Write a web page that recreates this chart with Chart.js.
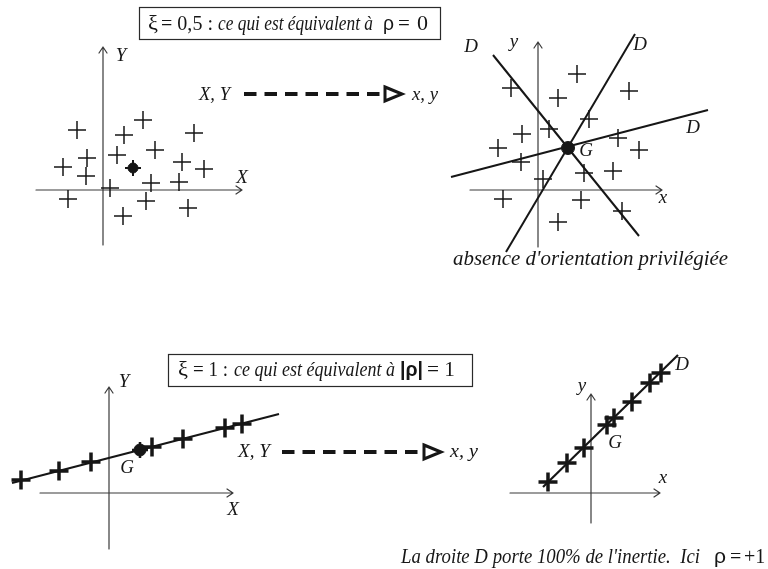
<!DOCTYPE html>
<html>
<head>
<meta charset="utf-8">
<script src="https://cdn.jsdelivr.net/npm/chart.js@4.4.1/dist/chart.umd.min.js"></script>
<style>
  html, body { margin: 0; padding: 0; background: #fff; }
  #wrap { position: relative; width: 768px; height: 569px; }
</style>
</head>
<body>
<div id="wrap"><canvas id="c"></canvas></div>
<script>
// Panel A: scattered cloud in the (X, Y) frame, G = centre of gravity
const cloudAX = [-26, 21, 40, 91, 52, 14, -16, -40, -17, 79, 101, 48, 76, 7, -35, 43, 85, 20];
const cloudAY = [60, 55, 70, 57, 40, 35, 32, 23, 14, 28, 21, 7, 8, 2, -9, -11, -18, -26];
const gA = [30, 22];

// Panel B: the cloud in the (x, y) frame, with three candidate axes D through G
const cloudBX = [-27, 39, 91, 20, 51, -16, 11, -40, 80, 101, -17, 46, 75, 5, -35, 43, 84, 20];
const cloudBY = [102, 116, 99, 92, 71, 56, 61, 42, 52, 40, 28, 17, 19, 11, -9, -10, -21, -32];
const gB = [30, 42];
const axesBX = [[-45, 101], [-32, 97], [-87, 170]];
const axesBY = [[135, -46], [-62, 156], [13, 80]];

// Panel C: perfectly aligned points in the (X, Y) frame
const lineCX = [-88, -50, -18, 43, 74, 116, 133];
const lineCY = [13, 22, 31, 46, 54, 65, 69];
const gC = [31, 43];
const axisCX = [-97, 170];
const axisCY = [10, 79];

// Panel D: the same points in the (x, y) frame, all on D
const lineDX = [-43, -24, -7, 16, 23, 41, 59, 70];
const lineDY = [11, 30, 45, 68, 75, 91, 110, 120];
const axisDX = [-48, 87];
const axisDY = [6, 138];

// ---- layout: pixel origin of each frame, and axis extents in frame units ----
const W = 768, H = 569;
const origin = { A: [103, 190], B: [538, 190], C: [109, 493], D: [591, 493] };
const extent = {
  A: { x: [-67, 139], y: [-55, 143] },
  B: { x: [-68, 124], y: [-57, 148] },
  C: { x: [-69, 124], y: [-56, 106] },
  D: { x: [-81, 69], y: [-30, 99] }
};

const INK = '#161616';
const zip = (xs, ys) => xs.map((x, i) => ({ x, y: ys[i] }));

const scales = {};
for (const k of Object.keys(origin)) {
  const [ox, oy] = origin[k];
  scales['x' + k] = { type: 'linear', display: false, min: -ox, max: W - ox };
  scales['y' + k] = { type: 'linear', display: false, min: -(H - oy), max: oy };
}

function crosses(k, data, r, bw, order) {
  return { data, xAxisID: 'x' + k, yAxisID: 'y' + k, pointStyle: 'cross', pointRadius: r,
    borderColor: INK, pointBorderWidth: bw, borderWidth: bw, showLine: false, order };
}
function dot(k, g, r, order) {
  return { data: [{ x: g[0], y: g[1] }], xAxisID: 'x' + k, yAxisID: 'y' + k, pointStyle: 'circle',
    pointRadius: r, backgroundColor: INK, borderColor: INK, borderWidth: 1, showLine: false, order };
}
function seg(k, xs, ys, bw, order) {
  return { data: zip(xs, ys), xAxisID: 'x' + k, yAxisID: 'y' + k, showLine: true, pointRadius: 0,
    borderColor: INK, borderWidth: bw, fill: false, order };
}

const datasets = [
  dot('A', gA, 5, 0), crosses('A', [{ x: gA[0], y: gA[1] }], 8, 2, 0),
  crosses('A', zip(cloudAX, cloudAY), 9, 1.5, 1),
  dot('B', gB, 6.5, 0),
  crosses('B', zip(cloudBX, cloudBY), 9, 1.5, 1),
  ...axesBX.map((xs, i) => seg('B', xs, axesBY[i], 2, 2)),
  dot('C', gC, 6, 0), crosses('C', [{ x: gC[0], y: gC[1] }], 8, 2.5, 0),
  crosses('C', zip(lineCX, lineCY), 9.5, 3.5, 1),
  seg('C', axisCX, axisCY, 2.2, 2),
  crosses('D', zip(lineDX, lineDY), 9.5, 3.5, 1),
  seg('D', axisDX, axisDY, 2.2, 2)
];

// ---- drawing helpers for frames, arrows and text ----
function fitText(ctx, s, font, x0, x1, base) {
  ctx.save();
  ctx.font = font; ctx.textAlign = 'left'; ctx.textBaseline = 'alphabetic'; ctx.fillStyle = INK;
  const w = ctx.measureText(s).width;
  const sx = x1 ? (x1 - x0) / w : 1;
  ctx.translate(x0, base); ctx.scale(sx, 1); ctx.fillText(s, 0, 0);
  ctx.restore();
}
function label(ctx, s, cx, cy, font) {
  ctx.save();
  ctx.font = font || 'italic 19px "Liberation Serif"';
  ctx.textAlign = 'center'; ctx.textBaseline = 'middle'; ctx.fillStyle = INK;
  ctx.fillText(s, cx, cy);
  ctx.restore();
}
function frame(chart, k) {
  const ctx = chart.ctx, sx = chart.scales['x' + k], sy = chart.scales['y' + k];
  const e = extent[k];
  const x0 = sx.getPixelForValue(0), y0 = sy.getPixelForValue(0);
  const xa = sx.getPixelForValue(e.x[0]), xb = sx.getPixelForValue(e.x[1]);
  const ya = sy.getPixelForValue(e.y[0]), yb = sy.getPixelForValue(e.y[1]);
  ctx.save();
  ctx.strokeStyle = '#3a3a3a'; ctx.lineWidth = 1.2; ctx.lineCap = 'round'; ctx.lineJoin = 'round';
  ctx.beginPath();
  ctx.moveTo(xa, y0); ctx.lineTo(xb, y0);
  ctx.moveTo(x0, ya); ctx.lineTo(x0, yb);
  ctx.moveTo(xb - 6, y0 - 4); ctx.lineTo(xb, y0); ctx.lineTo(xb - 6, y0 + 4);
  ctx.moveTo(x0 - 4, yb + 6); ctx.lineTo(x0, yb); ctx.lineTo(x0 + 4, yb + 6);
  ctx.stroke();
  ctx.restore();
}
function dashedArrow(ctx, x1, xt, tip, y, halfH) {
  ctx.save();
  ctx.strokeStyle = INK; ctx.lineWidth = 4; ctx.lineCap = 'butt';
  ctx.setLineDash([12.5, 8]);
  ctx.beginPath(); ctx.moveTo(x1, y); ctx.lineTo(xt, y); ctx.stroke();
  ctx.setLineDash([]);
  ctx.lineWidth = 3; ctx.lineJoin = 'miter';
  ctx.beginPath();
  ctx.moveTo(xt, y - halfH); ctx.lineTo(tip, y); ctx.lineTo(xt, y + halfH); ctx.closePath();
  ctx.fillStyle = '#fff'; ctx.fill(); ctx.stroke();
  ctx.restore();
}
function box(ctx, x, y, w, h) {
  ctx.save();
  ctx.strokeStyle = '#2a2a2a'; ctx.lineWidth = 1.2;
  ctx.strokeRect(x, y, w, h);
  ctx.restore();
}

const SERIF = '"Liberation Serif", "Times New Roman", serif';
const SANS = '"Liberation Sans", Arial, sans-serif';

const diagramPlugin = {
  id: 'diagram',
  beforeDatasetsDraw(chart) {
    for (const k of Object.keys(origin)) frame(chart, k);
  },
  afterDatasetsDraw(chart) {
    const ctx = chart.ctx;
    // first heading
    box(ctx, 139.5, 7.5, 301, 32);
    fitText(ctx, 'ξ', '21px ' + SERIF, 148, 158, 30);
    fitText(ctx, '= 0,5 :', '21px ' + SERIF, 161, 213, 30);
    fitText(ctx, 'ce qui est équivalent à', 'italic 21px ' + SERIF, 218, 373, 30);
    fitText(ctx, 'ρ', '21px ' + SANS, 383, 394, 30);
    fitText(ctx, '=', '21px ' + SERIF, 398, null, 30);
    fitText(ctx, '0', '22px ' + SERIF, 417, null, 30);
    // second heading
    box(ctx, 168.5, 354.5, 304, 32);
    fitText(ctx, 'ξ', '21px ' + SERIF, 178, 188, 376);
    fitText(ctx, '= 1 :', '21px ' + SERIF, 193, 228, 376);
    fitText(ctx, 'ce qui est équivalent à', 'italic 21px ' + SERIF, 234, 395, 376);
    fitText(ctx, '|ρ|', 'bold 20px ' + SANS, 400, 423, 376);
    fitText(ctx, '= 1', '21px ' + SERIF, 427, 455, 376);
    // change-of-frame arrows
    fitText(ctx, 'X, Y', 'italic 19px ' + SERIF, 199, 230, 100);
    dashedArrow(ctx, 244, 385, 402, 94, 7);
    fitText(ctx, 'x, y', 'italic 19px ' + SERIF, 412, 438, 100);
    fitText(ctx, 'X, Y', 'italic 19px ' + SERIF, 238, 270, 457);
    dashedArrow(ctx, 282, 424, 441, 452, 7);
    fitText(ctx, 'x, y', 'italic 19px ' + SERIF, 450, 478, 457);
    // frame labels
    label(ctx, 'Y', 121, 56); label(ctx, 'X', 242, 178);
    label(ctx, 'D', 471, 47); label(ctx, 'y', 514, 42); label(ctx, 'D', 640, 45);
    label(ctx, 'D', 693, 128); label(ctx, 'G', 586, 151); label(ctx, 'x', 663, 198);
    label(ctx, 'Y', 124, 382); label(ctx, 'G', 127, 468); label(ctx, 'X', 233, 510);
    label(ctx, 'y', 582, 386); label(ctx, 'D', 682, 365); label(ctx, 'G', 615, 443); label(ctx, 'x', 663, 478);
    // captions
    fitText(ctx, "absence d'orientation privilégiée", 'italic 20px ' + SERIF, 453, 728, 265);
    fitText(ctx, "La droite D porte 100% de l'inertie.  Ici", 'italic 20px ' + SERIF, 401, 700, 563);
    fitText(ctx, 'ρ', '21px ' + SANS, 714, 726, 563);
    fitText(ctx, '=', '20px ' + SERIF, 730, null, 563);
    fitText(ctx, '+1', '20px ' + SERIF, 744, null, 563);
  }
};

new Chart(document.getElementById('c'), {
  type: 'scatter',
  data: { datasets },
  options: {
    responsive: true,
    maintainAspectRatio: false,
    animation: false,
    events: [],
    layout: { padding: 0, autoPadding: false },
    scales,
    plugins: { legend: { display: false }, tooltip: { enabled: false } }
  },
  plugins: [diagramPlugin]
});
</script>
</body>
</html>
